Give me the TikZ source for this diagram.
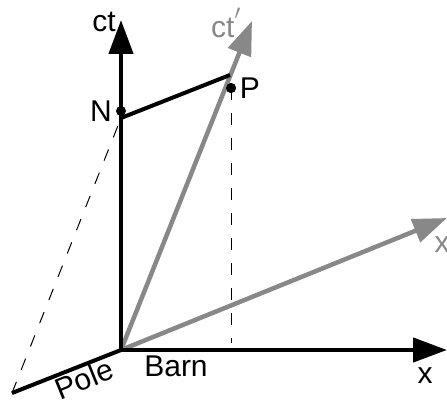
\documentclass[tikz,border=0pt]{standalone}
\usepackage{fontspec}
\setmainfont{Liberation Sans}
\usetikzlibrary{arrows.meta}
\definecolor{axisgray}{RGB}{136,136,136}
\tikzset{
  axis/.style={line width=4.5pt,-{Triangle[length=34pt,width=24pt]}},
  bar/.style={line width=4pt},
  guide/.style={line width=1pt,dash pattern=on 12pt off 13pt},
  lbl/.style={font=\fontsize{30}{34}\selectfont,inner sep=0pt},
  dot/.style={circle,fill=black,inner sep=0pt,minimum size=10pt}
}
\begin{document}
\begin{tikzpicture}[x=1pt,y=-1pt]
\useasboundingbox (0,0) rectangle (447,404);
% points
\coordinate (O) at (121,350);
\coordinate (cttip) at (121,20);
\coordinate (xtip) at (447,350);
\coordinate (ctptip) at (252,21);
\coordinate (xptip) at (447,218);
\coordinate (E) at (12,393);
\coordinate (Ns) at (121,118);
\coordinate (Pc) at (230,75);
\coordinate (Pfoot) at (231,343);
% dashed guides
\node[dot] (P) at (231,88) {};
\draw[guide] (P.center) -- (Pfoot);
\draw[guide] (E) -- (Ns);
% gray primed axes
\draw[axis,axisgray] (O) -- (ctptip);
\draw[axis,axisgray] (O) -- (xptip);
% black axes
\draw[axis] (O) -- (cttip);
\draw[axis] (O) -- (xtip);
% pole and simultaneity line
\draw[bar] (O) -- (E);
\draw[bar] (Ns) -- (Pc);
\node[dot] (N) at (121,111) {};
\node[dot] at (P) {};
% labels
\node[lbl,anchor=base] (ctl) at (104,31.5) {ct};
\node[lbl,anchor=base,text=axisgray] (ctpl) at (226,38) {ct\raisebox{9pt}{$'$}};
\node[lbl] (Nl) at (101,111) {N};
\node[lbl] (Pl) at (250,88) {P};
\node[lbl,anchor=base] (xl) at (425,383) {x};
\node[lbl,anchor=base,text=axisgray] (xpl) at (442,252) {x};
\node[lbl,anchor=base] (barn) at (176,376.5) {Barn};
\node[lbl,rotate=22] (pole) at (84,379) {Pole};
\end{tikzpicture}
\end{document}
